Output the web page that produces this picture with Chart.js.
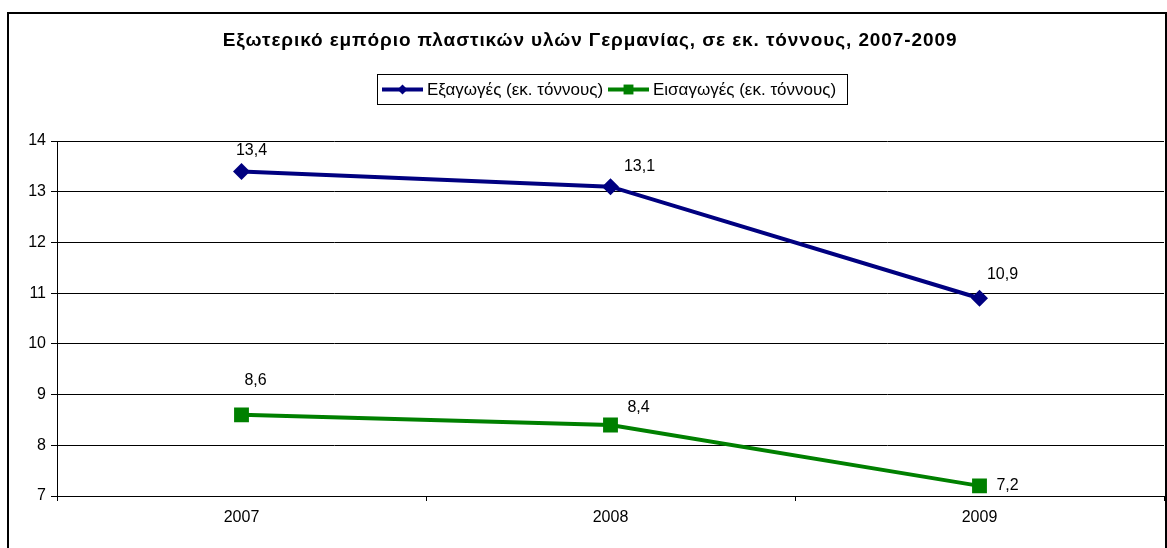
<!DOCTYPE html>
<html>
<head>
<meta charset="utf-8">
<script src="https://cdn.jsdelivr.net/npm/chart.js@4"></script>
<style>
  body { margin: 0; background: #fff; }
</style>
</head>
<body>
<canvas id="canvas" width="1167" height="548"></canvas>
<script>
// data
let years = ['2007', '2008', '2009'];
let exportsData = [13.4, 13.1, 10.9];
let importsData = [8.6, 8.4, 7.2];
let exportsLabel = 'Εξαγωγές (εκ. τόννους)';
let importsLabel = 'Εισαγωγές (εκ. τόννους)';
let chartTitle = 'Εξωτερικό εμπόριο πλαστικών υλών Γερμανίας, σε εκ. τόννους, 2007-2009';

const FONT = '"Liberation Sans", Arial, sans-serif';

// where each value label sits, relative to its point
let exportsLabelOffset = [[10, -21], [29, -20], [23, -24]];
let importsLabelOffset = [[14, -34], [28, -17], [28, 0]];

function fmt(v) {
    return v.toFixed(1).replace('.', ',');
}

// frame, title, legend box and value labels
const decorations = {
    id: 'decorations',
    beforeDraw(chart) {
        const ctx = chart.ctx;
        ctx.save();
        ctx.fillStyle = '#fff';
        ctx.fillRect(0, 0, chart.width, chart.height);
        ctx.strokeStyle = '#000';
        ctx.lineWidth = 2;
        ctx.strokeRect(8, 13, 1166 - 8, 600);
        ctx.restore();
    },
    afterDraw(chart) {
        const ctx = chart.ctx;
        ctx.save();
        // title
        ctx.fillStyle = '#000';
        ctx.font = 'bold 19px ' + FONT;
        ctx.letterSpacing = '0.9px';
        ctx.textAlign = 'center';
        ctx.textBaseline = 'middle';
        ctx.fillText(chartTitle, 590, 41);
        ctx.letterSpacing = '0px';

        // legend
        ctx.strokeStyle = '#000';
        ctx.lineWidth = 1;
        ctx.strokeRect(377.5, 74.5, 470, 30);
        ctx.font = '17px ' + FONT;
        ctx.textAlign = 'left';
        const items = [
            {x: 382, color: '#000080', style: 'rectRot', r: 5, text: exportsLabel},
            {x: 608, color: '#008000', style: 'rect', r: 7, text: importsLabel}
        ];
        items.forEach(it => {
            ctx.strokeStyle = it.color;
            ctx.lineWidth = 4;
            ctx.beginPath();
            ctx.moveTo(it.x, 89.5);
            ctx.lineTo(it.x + 41, 89.5);
            ctx.stroke();
            ctx.fillStyle = it.color;
            Chart.helpers.drawPoint(ctx, {pointStyle: it.style, radius: it.r, borderWidth: 0}, it.x + 20.5, 89.5);
            ctx.fillStyle = '#000';
            ctx.fillText(it.text, it.x + 45, 90);
        });

        // value labels
        ctx.font = '16px ' + FONT;
        ctx.textAlign = 'center';
        ctx.fillStyle = '#000';
        const offs = [exportsLabelOffset, importsLabelOffset];
        chart.data.datasets.forEach((ds, i) => {
            chart.getDatasetMeta(i).data.forEach((pt, j) => {
                ctx.fillText(fmt(ds.data[j]), pt.x + offs[i][j][0], pt.y + offs[i][j][1]);
            });
        });
        ctx.restore();
    }
};

var ctx = document.getElementById('canvas').getContext('2d');
let myChart = new Chart(ctx, {
    type: 'line',
    data: {
        labels: years,
        datasets: [{
            label: exportsLabel,
            data: exportsData,
            borderColor: '#000080',
            backgroundColor: '#000080',
            borderWidth: 4,
            pointStyle: 'rectRot',
            pointRadius: 8.5,
            pointHoverRadius: 8.5,
            pointBorderWidth: 0,
            tension: 0
        }, {
            label: importsLabel,
            data: importsData,
            borderColor: '#008000',
            backgroundColor: '#008000',
            borderWidth: 4,
            pointStyle: 'rect',
            pointRadius: 10.5,
            pointHoverRadius: 10.5,
            pointBorderWidth: 0,
            tension: 0
        }]
    },
    options: {
        responsive: false,
        animation: false,
        layout: { autoPadding: false, padding: { top: 141, right: 3, left: 0, bottom: 0 } },
        plugins: {
            legend: { display: false },
            title: { display: false },
            tooltip: { enabled: false }
        },
        scales: {
            x: {
                offset: true,
                grid: { offset: true, drawOnChartArea: false, color: '#000', tickLength: 5 },
                border: { color: '#000', width: 1 },
                ticks: { color: '#000', font: { family: FONT, size: 16 }, padding: 7 },
                afterFit: s => { s.height = 52; }
            },
            y: {
                min: 7,
                max: 14,
                grid: { color: '#000', tickLength: 6 },
                border: { color: '#000', width: 1 },
                ticks: { stepSize: 1, color: '#000', font: { family: FONT, size: 16 }, padding: 5 },
                afterFit: s => { s.width = 57; }
            }
        }
    },
    plugins: [decorations]
});
</script>
</body>
</html>
